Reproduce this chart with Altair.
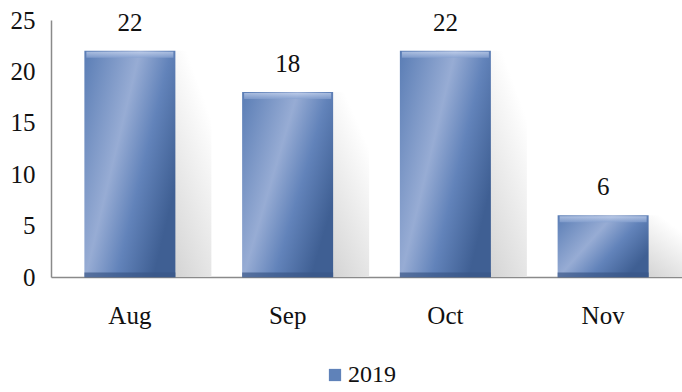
import altair as alt
import pandas as pd

months = ["Aug", "Sep", "Oct", "Nov"]
values = [22, 18, 22, 6]
series = ["2019", "2019", "2019", "2019"]

df = pd.DataFrame({"month": months, "value": values, "series": series})

FONT = "Liberation Serif"

x_enc = alt.X("month:N", sort=months, title=None,
              scale=alt.Scale(paddingInner=0, paddingOuter=0),
              axis=alt.Axis(labelAngle=0, ticks=False, labelPadding=26, labelFontSize=25,
                            labelFont=FONT, labelColor="#111", domainColor="#8a8a8a", domainWidth=1.5))
y_enc = alt.Y("value:Q", title=None,
              scale=alt.Scale(domain=[0, 25], nice=False),
              axis=alt.Axis(values=[0, 5, 10, 15, 20, 25], ticks=False, grid=False, labelPadding=16,
                            labelFontSize=25, labelFont=FONT, labelColor="#111",
                            domainColor="#8a8a8a", domainWidth=1.5))

base = alt.Chart(df)

shadow = base.mark_bar(
    size=91, xOffset=36,
    color=alt.Gradient(gradient="linear", x1=0, y1=1, x2=1, y2=0.1,
                       stops=[alt.GradientStop(color="#b9b9b9", offset=0),
                              alt.GradientStop(color="#dddddd", offset=0.45),
                              alt.GradientStop(color="#ffffff", offset=0.9)])
).encode(x=x_enc, y=y_enc)

bars = base.mark_bar(
    size=91,
    color=alt.Gradient(gradient="linear", x1=0, y1=0, x2=1, y2=0.6,
                       stops=[alt.GradientStop(color="#5a7db5", offset=0),
                              alt.GradientStop(color="#97acd4", offset=0.45),
                              alt.GradientStop(color="#6283ba", offset=0.7),
                              alt.GradientStop(color="#3f5f93", offset=1)])
).encode(x=x_enc, y=y_enc)

bevel = base.mark_tick(
    size=87, thickness=6, yOffset=4,
    color=alt.Gradient(gradient="linear", x1=0, y1=0, x2=0, y2=1,
                       stops=[alt.GradientStop(color="#c9d6ef", offset=0),
                              alt.GradientStop(color="#86a1d0", offset=1)])
).encode(x=x_enc, y=y_enc)

bottom = base.mark_tick(
    size=91, thickness=5, yOffset=-2, color="#3b5787"
).encode(x=x_enc, y=alt.datum(0))

labels = base.mark_text(
    baseline="alphabetic", dy=-20, fontSize=25, font=FONT, color="#111"
).encode(x=x_enc, y=y_enc, text="value:Q")

legend_layer = base.mark_square(opacity=0, size=10).encode(
    x=x_enc, y=y_enc,
    color=alt.Color("series:N", title=None,
                    scale=alt.Scale(range=["#5f82b9"]),
                    legend=alt.Legend(orient="none", legendX=272, legendY=343,
                                      symbolType="square", symbolSize=150, symbolOpacity=1,
                                      symbolStrokeWidth=0, labelFontSize=24, labelFont=FONT,
                                      labelColor="#111", labelOffset=1))
)

chart = alt.layer(shadow, bars, bevel, bottom, labels, legend_layer).properties(
    width=631, height=257,
    autosize=alt.AutoSizeParams(type="none"),
    padding={"left": 51, "top": 20, "right": 0, "bottom": 115},
    background="white"
).configure_view(stroke=None).configure_legend(labelFont=FONT, labelFontSize=24, labelColor="#111")

chart.save("out.html", embed_options={"renderer": "svg", "actions": False})
